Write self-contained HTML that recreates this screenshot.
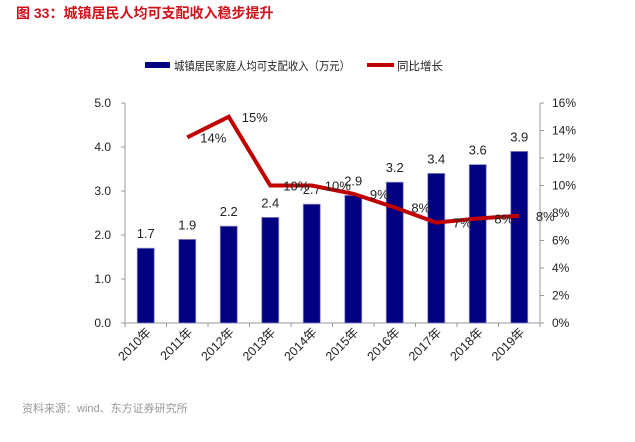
<!DOCTYPE html>
<html><head><meta charset="utf-8"><style>
body{margin:0;background:#fff;font-family:"Liberation Sans","Noto Sans CJK SC",sans-serif}
</style></head><body>
<svg width="635" height="437" xmlns="http://www.w3.org/2000/svg" style="font-family:'Liberation Sans','Noto Sans CJK SC',sans-serif">
<text x="16" y="18" font-size="14" font-weight="bold" fill="#d0121b">图 33：城镇居民人均可支配收入稳步提升</text>
<g>
<rect x="145" y="62" width="25" height="6" fill="#000080"/>
<text x="174" y="70" font-size="11.5" textLength="176" lengthAdjust="spacingAndGlyphs" fill="#222">城镇居民家庭人均可支配收入（万元）</text>
<rect x="367" y="63" width="27" height="4" fill="#c00000"/>
<text x="397" y="70" font-size="11.5" fill="#222">同比增长</text>
</g>
<g id="axes"></g>
<g id="bars"></g>
<g id="line"></g>
<text x="22" y="412" font-size="11" fill="#999">资料来源：wind、东方证券研究所</text>
</svg>
<script>
const categories=["2010年","2011年","2012年","2013年","2014年","2015年","2016年","2017年","2018年","2019年"];
const incomeValues=[1.7,1.9,2.2,2.4,2.7,2.9,3.2,3.4,3.6,3.9];
const growthValues=[null,13.5,15.0,10.0,10.0,9.4,8.4,7.3,7.6,7.8];
const growthLabels=["","14%","15%","10%","10%","9%","8%","7%","8%","8%"];
const leftTicks=["0.0","1.0","2.0","3.0","4.0","5.0"];
const rightTicks=["0%","2%","4%","6%","8%","10%","12%","14%","16%"];
const NS="http://www.w3.org/2000/svg";
const X0=125,X1=540,Y0=323,Y1=103;
const step=(X1-X0)/categories.length;
const xC=i=>X0+step*(i+0.5);
const yL=v=>Y0-(v/5)*(Y0-Y1);
const yR=v=>Y0-(v/16)*(Y0-Y1);
function mk(tag,attrs,parent,text){const e=document.createElementNS(NS,tag);for(const k in attrs)e.setAttribute(k,attrs[k]);if(text!==undefined)e.textContent=text;parent.appendChild(e);return e;}
const ax=document.getElementById('axes');
let e=mk('line',{x1:X0,y1:Y1,x2:X0,y2:Y0,stroke:'#999'},ax);


e=mk('line',{x1:X1,y1:Y1,x2:X1,y2:Y0,stroke:'#999'},ax);


e=mk('line',{x1:X0,y1:Y0,x2:X1,y2:Y0,stroke:'#999'},ax);


leftTicks.forEach((t,i)=>{const y=yL(i);mk('line',{x1:X0-4,y1:y,x2:X0,y2:y,stroke:'#999'},ax);
e=mk('text',{x:X0-14,y:y+4,'font-size':12,'text-anchor':'end',fill:'#222'},ax,t);

});
rightTicks.forEach((t,i)=>{const y=yR(i*2);mk('line',{x1:X1,y1:y,x2:X1+4,y2:y,stroke:'#999'},ax);
e=mk('text',{x:X1+12,y:y+4,'font-size':12,fill:'#222'},ax,t);

});
for(let i=0;i<=categories.length;i++){const x=X0+step*i;mk('line',{x1:x,y1:Y0,x2:x,y2:Y0+4,stroke:'#999'},ax);}
categories.forEach((c,i)=>{const x=xC(i)+6,y=Y0+10;
e=mk('text',{x:x,y:y,'font-size':12.5,'text-anchor':'end',fill:'#222',transform:`rotate(-45 ${x} ${y})`},ax,c);

});
const bg=document.getElementById('bars');
incomeValues.forEach((v,i)=>{const x=xC(i),y=yL(v);
e=mk('rect',{x:x-8.5,y:y,width:17,height:Y0-y,fill:'#000080',stroke:'#8888c8','stroke-width':0.8},bg);


e=mk('text',{x:x,y:y-10,'font-size':13,'text-anchor':'middle',fill:'#222'},bg,v.toFixed(1));

});
const lg=document.getElementById('line');
const pts=[];growthValues.forEach((v,i)=>{if(v!==null)pts.push([xC(i),yR(v)]);});
e=mk('polyline',{points:pts.map(p=>p.join(',')).join(' '),fill:'none',stroke:'#c00000','stroke-width':4,'stroke-linejoin':'miter'},lg);


growthValues.forEach((v,i)=>{if(v===null)return;
e=mk('text',{x:xC(i)+26,y:yR(v)+5,'font-size':13,'text-anchor':'middle',fill:'#222'},lg,growthLabels[i]);

});
</script>
</body></html>
